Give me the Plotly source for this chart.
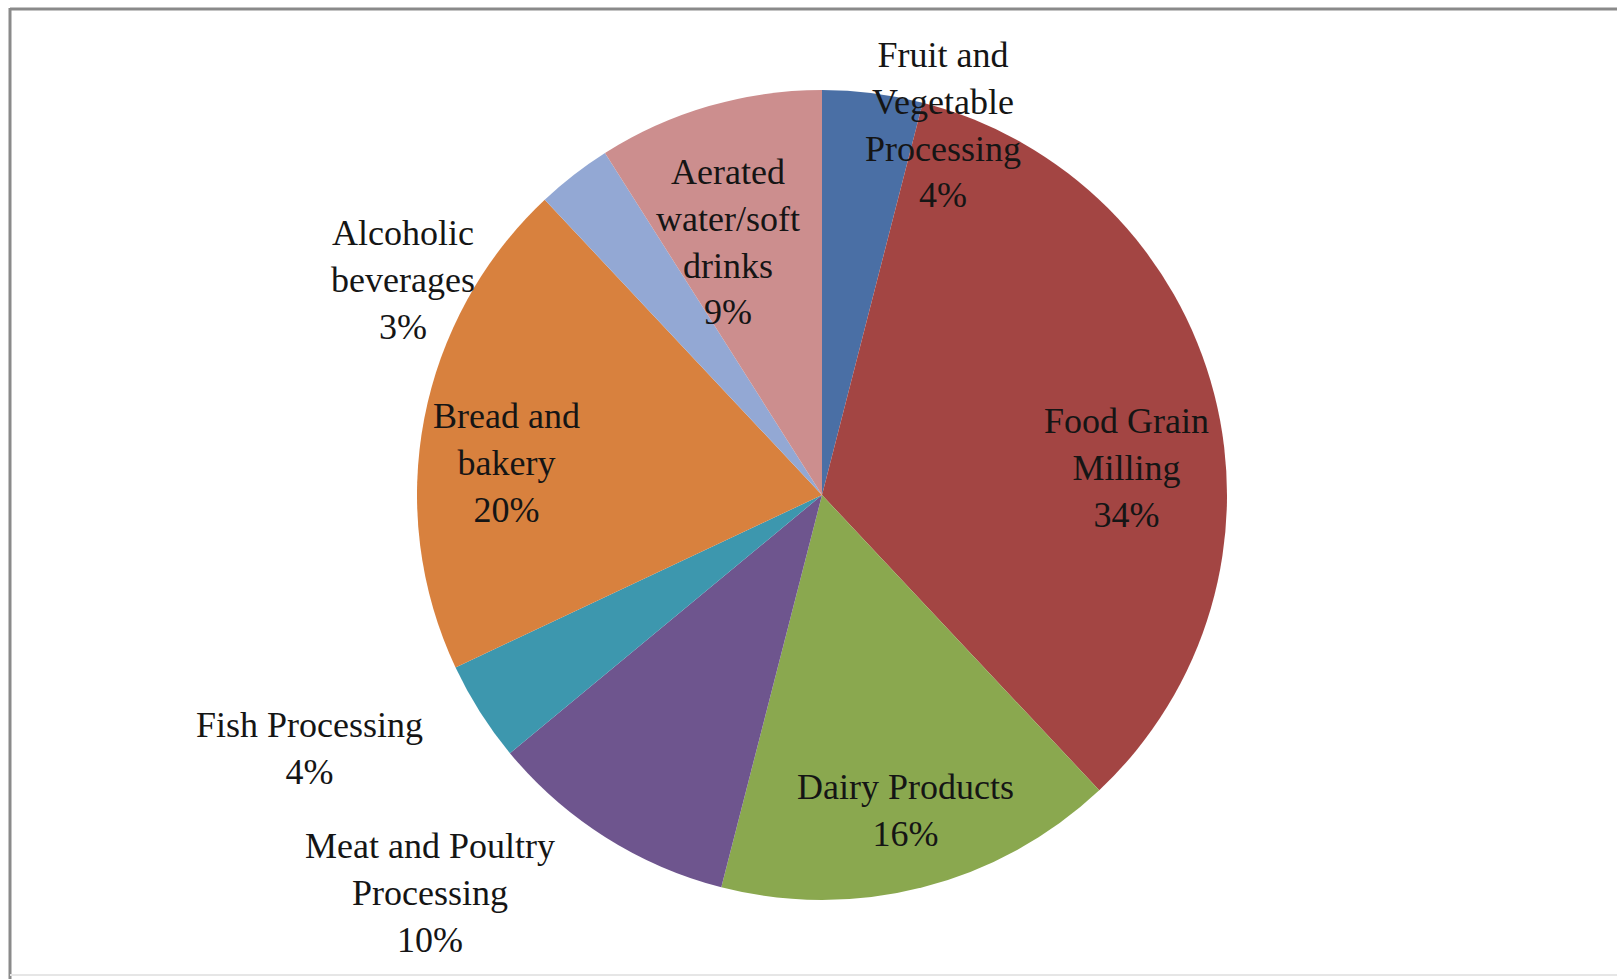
import plotly.graph_objects as go

labels = ["Fruit and Vegetable Processing", "Food Grain Milling", "Dairy Products",
          "Meat and Poultry Processing", "Fish Processing", "Bread and bakery",
          "Alcoholic beverages", "Aerated water/soft drinks"]
values = [4, 34, 16, 10, 4, 20, 3, 9]
label_text = ["Fruit and<br>Vegetable<br>Processing", "Food Grain<br>Milling", "Dairy Products",
              "Meat and Poultry<br>Processing", "Fish Processing", "Bread and<br>bakery",
              "Alcoholic<br>beverages", "Aerated<br>water/soft<br>drinks"]
colors = ["#4A6FA5", "#A34543", "#8AA84F", "#6E558E", "#3D97AE", "#D8813E", "#93A8D4", "#CC8E8E"]

W, H = 1617, 979
# label block centres in pixels (layout only)
label_pos = [(943, 125), (1126, 468), (905, 810), (430, 893),
             (309, 748), (506, 463), (403, 280), (728, 242)]

cx, cy, r = 822, 495, 405

fig = go.Figure(go.Pie(
    labels=labels, values=values, sort=False, direction="clockwise", rotation=0,
    marker=dict(colors=colors, line=dict(width=0)),
    textinfo="none", hoverinfo="label+percent", showlegend=False,
    domain=dict(x=[(cx - r) / W, (cx + r) / W], y=[(H - cy - r) / H, (H - cy + r) / H]),
))

total = sum(values)
for txt, v, (px, py) in zip(label_text, values, label_pos):
    fig.add_annotation(
        x=px / W, y=1 - py / H, xref="paper", yref="paper",
        text=f"{txt}<br>{round(100 * v / total)}%",
        showarrow=False, xanchor="center", yanchor="middle", align="center",
        font=dict(family="Liberation Serif", size=36, color="#151515"),
    )

# chart border (left and top visible, faint bottom)
fig.add_shape(type="line", xref="paper", yref="paper", x0=10 / W, x1=10 / W, y0=0, y1=1 - 8 / H,
              line=dict(color="#8a8a8a", width=3))
fig.add_shape(type="line", xref="paper", yref="paper", x0=10 / W, x1=1, y0=1 - 9 / H, y1=1 - 9 / H,
              line=dict(color="#8a8a8a", width=3))
fig.add_shape(type="line", xref="paper", yref="paper", x0=10 / W, x1=1, y0=1 - 975 / H, y1=1 - 975 / H,
              line=dict(color="#e6e6e6", width=2))

fig.update_layout(
    width=W, height=H, margin=dict(l=0, r=0, t=0, b=0),
    paper_bgcolor="white", plot_bgcolor="white",
)

fig.write_html("out.html")
